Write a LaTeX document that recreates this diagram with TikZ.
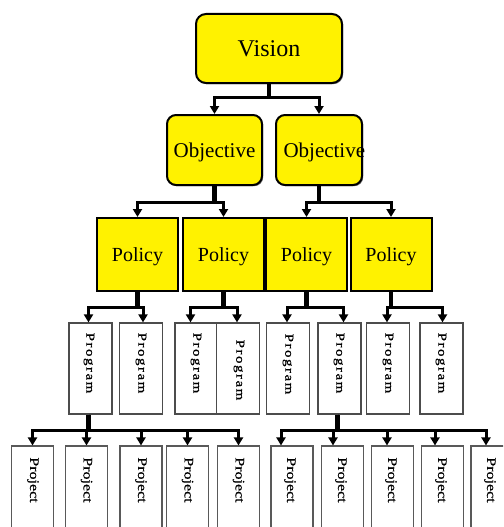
\documentclass[tikz,border=0pt]{standalone}
\usepackage{fontspec}
\setmainfont{Liberation Serif}
\newfontfamily\progfont[LetterSpace=10,FakeBold=0.8]{Liberation Serif}
\newfontfamily\projfont[FakeBold=0.6]{Liberation Serif}
\usepackage{graphicx}
\usetikzlibrary{arrows.meta,shadows}

% text set top to bottom, slightly narrowed
\newcommand{\vtext}[1]{\rotatebox{-90}{\scalebox{1}[0.82]{#1}}}

\begin{document}
\begin{tikzpicture}[x=1pt,y=-1pt,
  yellowbox/.style={draw=black, line width=2pt, fill=yellow, inner sep=0pt, text depth=0pt,
    drop shadow={shadow xshift=1.2pt, shadow yshift=-1.2pt, fill=black!55, opacity=1}},
  topbox/.style={yellowbox, rounded corners=10pt, minimum width=146pt, minimum height=69pt,
    font=\fontsize{24}{24}\selectfont},
  objbox/.style={yellowbox, rounded corners=9pt, minimum height=70pt,
    font=\fontsize{21}{21}\selectfont},
  polbox/.style={yellowbox, minimum width=81pt, minimum height=73pt,
    font=\fontsize{20}{20}\selectfont},
  progbox/.style={draw=black!70, line width=1.2pt, fill=white,
    minimum width=43pt, minimum height=91pt, inner sep=0pt},
  projbox/.style={draw=black!65, line width=1.1pt, fill=white,
    minimum width=42pt, minimum height=114pt, inner sep=0pt},
  progtext/.style={inner sep=0pt, font=\progfont\fontsize{15}{15}\selectfont},
  projtext/.style={inner sep=0pt, font=\projfont\fontsize{16}{16}\selectfont},
  trunk/.style={line width=4.5pt},
  branch/.style={line width=3pt, -{Triangle[length=8pt,width=9pt]}},
]
\useasboundingbox[fill=white] (0,0) rectangle (503,527);
\clip (0,0) rectangle (503,527);

% ---- vision and objectives
\node[topbox] (vis) at (269,48.5) {Vision};
\node[objbox, minimum width=95pt] (ob1) at (214.5,150) {Objective};
\node[objbox, minimum width=86pt] (ob2) at (319,150) {\makebox[81pt][l]{\hspace{5pt}Objective}};

% ---- policies
\node[polbox] (po1) at (137.5,254.5) {Policy};
\node[polbox] (po2) at (223.5,254.5) {Policy};
\node[polbox] (po3) at (306.5,254.5) {Policy};
\node[polbox] (po4) at (391,254.5) {Policy};

% ---- programs
\foreach \i/\x in {1/90.5, 2/141, 3/196.5, 4/238, 5/288, 6/339.5, 7/388, 8/441.5}
  \node[progbox] (pr\i) at (\x,368.5) {};
\foreach \i/\x/\y in {1/89/363, 2/141/363, 3/196/363, 4/239/370, 5/288/364, 6/339/363, 7/388/363, 8/441/363}
  \node[progtext] (pr\i t) at (\x,\y) {\vtext{Program}};

% ---- projects
\foreach \i/\x in {1/32.5, 2/86.5, 3/141, 4/187.5, 5/238.5, 6/292, 7/342.5, 8/392.5, 9/442.5, 10/492}
  \node[projbox] (pj\i) at (\x,503) {};
\foreach \i/\x in {1/33, 2/86.5, 3/141, 4/187.5, 5/238.5, 6/290, 7/341, 8/391, 9/441, 10/490}
  \node[projtext] (pj\i t) at (\x,480) {\vtext{Project}};

% ---- connectors: vision -> objectives
\draw[branch] (vis.south) -- ++(0,13) -| (ob1.north);
\draw[branch] (vis.south) -- ++(0,13) -| (ob2.north);
\draw[trunk] (vis.south) -- ++(0,13);

% ---- objectives -> policies
\foreach \p/\a/\b in {ob1/po1/po2, ob2/po3/po4} {
  \draw[branch] (\p.south) -- ++(0,16) -| (\a.north);
  \draw[branch] (\p.south) -- ++(0,16) -| (\b.north);
  \draw[trunk] (\p.south) -- ++(0,16);
}

% ---- policies -> programs
\foreach \p/\a/\sa/\b/\sb in {po1/pr1/-2/pr2/2, po2/pr3/-6/pr4/-1, po3/pr5/-1/pr6/4, po4/pr7/-1/pr8/1} {
  \draw[branch] (\p.south) -- ++(0,15) -| ([xshift=\sa pt]\a.north);
  \draw[branch] (\p.south) -- ++(0,15) -| ([xshift=\sb pt]\b.north);
  \draw[trunk] (\p.south) -- ++(0,15);
}

% ---- programs -> projects
\foreach \c/\s in {pj1/0, pj2/0, pj3/0, pj4/0, pj5/0}
  \draw[branch] ([xshift=-2pt]pr1.south) -- ++(0,15.5) -| ([xshift=\s pt]\c.north);
\draw[trunk] ([xshift=-2pt]pr1.south) -- ++(0,15.5);
\foreach \c/\s in {pj6/-11, pj7/-9.5, pj8/-5.5, pj9/-7.5, pj10/-6}
  \draw[branch] ([xshift=-2pt]pr6.south) -- ++(0,15.5) -| ([xshift=\s pt]\c.north);
\draw[trunk] ([xshift=-2pt]pr6.south) -- ++(0,15.5);
\end{tikzpicture}
\end{document}
